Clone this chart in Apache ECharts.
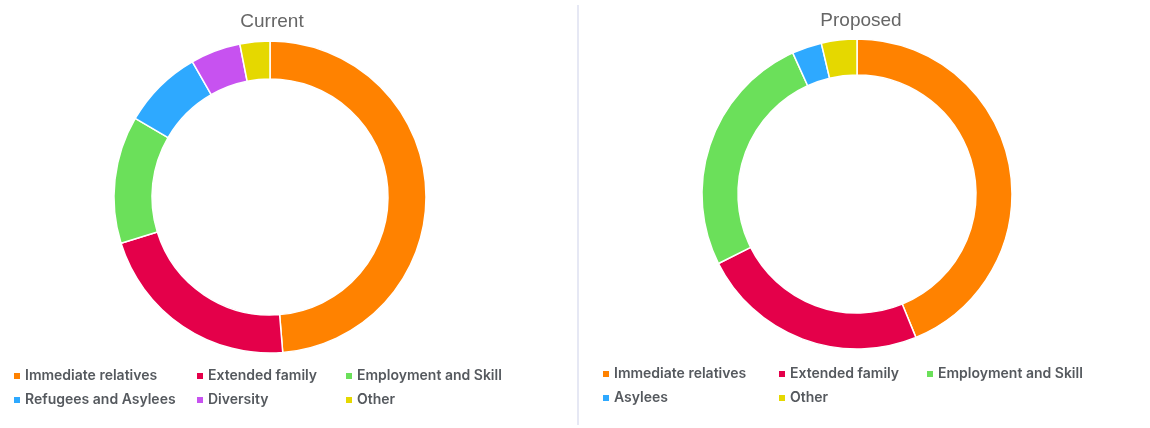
<!DOCTYPE html>
<html>
<head>
<meta charset="utf-8">
<script src="https://cdn.jsdelivr.net/npm/echarts@6/dist/echarts.min.js"></script>
<style>
  html, body { margin: 0; padding: 0; background: #ffffff; }
  #chart { width: 1150px; height: 428px; }
</style>
</head>
<body>
<div id="chart"></div>
<script>
// Shares of admissions by category (percent)
const currentCategories = ['Immediate relatives', 'Extended family', 'Employment and Skill', 'Refugees and Asylees', 'Diversity', 'Other'];
const currentValues = [48.7, 21.5, 13.2, 8.3, 5.2, 3.1];

const proposedCategories = ['Immediate relatives', 'Extended family', 'Employment and Skill', 'Asylees', 'Other'];
const proposedValues = [43.8, 23.8, 25.6, 3.1, 3.7];

const titles = ['Current', 'Proposed'];

const categoryColors = {
  'Immediate relatives': '#ff8200',
  'Extended family': '#e4004a',
  'Employment and Skill': '#6be05a',
  'Refugees and Asylees': '#2ea9ff',
  'Asylees': '#2ea9ff',
  'Diversity': '#c752f0',
  'Other': '#e5d800'
};

function toData(names, values) {
  return names.map((n, i) => ({ name: n, value: values[i], itemStyle: { color: categoryColors[n] } }));
}

const legendText = { color: '#55595e', fontSize: 14, fontFamily: 'Inter, sans-serif', fontWeight: 600, lineHeight: 16, padding: [0, 0, 0, -1] };

function legendColumn(left, top, names) {
  return {
    orient: 'vertical', left: left, top: top, data: names,
    icon: 'rect', itemWidth: 8, itemHeight: 8, itemGap: 8,
    textStyle: legendText, padding: 0, selectedMode: false
  };
}

const titleText = { color: '#666666', fontSize: 19, fontWeight: 'normal', fontFamily: 'Liberation Sans, Arial, sans-serif' };

const chart = echarts.init(document.getElementById('chart'));
chart.setOption({
  animation: false,
  title: [
    { text: titles[0], left: 267, top: 7, textAlign: 'center', textStyle: titleText },
    { text: titles[1], left: 856, top: 6, textAlign: 'center', textStyle: titleText }
  ],
  legend: [
    legendColumn(12, 368, [currentCategories[0], currentCategories[3]]),
    legendColumn(195, 368, [currentCategories[1], currentCategories[4]]),
    legendColumn(344, 368, [currentCategories[2], currentCategories[5]]),
    legendColumn(601, 366, [proposedCategories[0], proposedCategories[3]]),
    legendColumn(777, 366, [proposedCategories[1], proposedCategories[4]]),
    legendColumn(925, 366, [proposedCategories[2]])
  ],
  graphic: [
    { type: 'line', shape: { x1: 578, y1: 5, x2: 578, y2: 425 },
      style: { stroke: '#e6e8f4', lineWidth: 2 } }
  ],
  series: [
    {
      type: 'pie', center: [270, 197], radius: [118, 156], startAngle: 90,
      label: { show: false }, labelLine: { show: false }, silent: true,
      itemStyle: { borderColor: '#ffffff', borderWidth: 1.5 },
      data: toData(currentCategories, currentValues)
    },
    {
      type: 'pie', center: [857, 194], radius: [119, 155], startAngle: 90,
      label: { show: false }, labelLine: { show: false }, silent: true,
      itemStyle: { borderColor: '#ffffff', borderWidth: 1.5 },
      data: toData(proposedCategories, proposedValues)
    }
  ]
});
</script>
</body>
</html>
